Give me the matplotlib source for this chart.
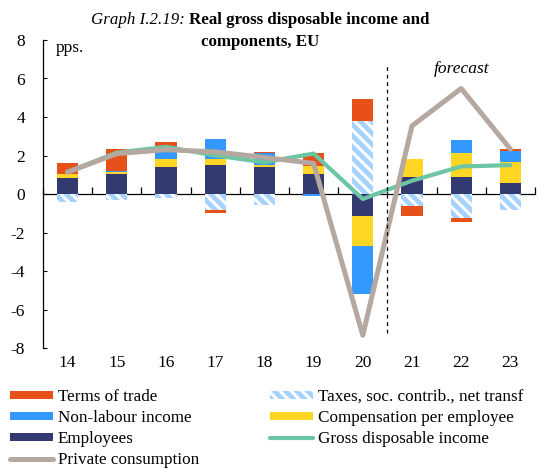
import matplotlib
matplotlib.use("Agg")
import matplotlib.pyplot as plt
from matplotlib.patches import Patch
from matplotlib.lines import Line2D
import numpy as np

plt.rcParams['font.family'] = ['Liberation Serif', 'DejaVu Serif']
plt.rcParams['hatch.linewidth'] = 2.2
plt.rcParams['axes.unicode_minus'] = False

years = ['14', '15', '16', '17', '18', '19', '20', '21', '22', '23']
employees = [0.85, 1.05, 1.38, 1.50, 1.38, 1.04, -1.14, 0.86, 0.86, 0.57]
comp_per_employee = [0.19, 0.07, 0.45, 0.33, 0.15, 0.44, -1.55, 0.95, 1.26, 1.07]
non_labour = [0.0, 0.09, 0.64, 1.04, 0.61, -0.08, -2.53, 0.0, 0.68, 0.59]
taxes = [-0.43, -0.30, -0.22, -0.84, -0.57, 0.0, 3.80, -0.64, -1.26, -0.83]
terms_of_trade = [0.55, 1.11, 0.22, -0.13, 0.06, 0.66, 1.12, -0.48, -0.17, 0.10]
gross_disp_income = [1.15, 2.15, 2.45, 2.0, 1.65, 2.1, -0.26, 0.69, 1.43, 1.5]
private_consumption = [1.13, 2.1, 2.3, 2.19, 1.9, 1.59, -7.34, 3.54, 5.48, 2.33]

c_tot = '#E8501A'
c_nonlab = '#3399FF'
c_emp = '#333A70'
c_comp = '#FFD624'
c_tax_face = '#A6D2FF'
c_gdi = '#6CC5A3'
c_pc = '#B5A8A0'

fig = plt.figure(figsize=(5.47, 4.69), dpi=100)
W, H = 547, 469
ax = fig.add_axes([43 / W, 1 - 348 / H, (535 - 43) / W, (348 - 40) / H])

x = np.arange(len(years))
bw = 0.43
series = [
    (employees, dict(color=c_emp)),
    (comp_per_employee, dict(color=c_comp)),
    (non_labour, dict(color=c_nonlab)),
    (taxes, dict(facecolor=c_tax_face, edgecolor='white', hatch='\\\\\\', linewidth=0)),
    (terms_of_trade, dict(color=c_tot)),
]
pos_base = np.zeros(len(years))
neg_base = np.zeros(len(years))
for vals, style in series:
    v = np.array(vals, dtype=float)
    bottom = np.where(v >= 0, pos_base, neg_base)
    ax.bar(x, v, bw, bottom=bottom, zorder=2, **style)
    pos_base = pos_base + np.where(v > 0, v, 0)
    neg_base = neg_base + np.where(v < 0, v, 0)

ax.plot(x, gross_disp_income, color=c_gdi, lw=3.0, zorder=3, solid_capstyle='round')
ax.plot(x, private_consumption, color=c_pc, lw=3.6, zorder=4, solid_capstyle='round')

ax.vlines(6.5, -7.2, 6.7, colors='black', linestyles=(0, (3, 3)), lw=0.9, zorder=5)
ax.text(8.0, 6.5, 'forecast', style='italic', fontsize=12.5, ha='center', va='center')
ax.text(0.026, 0.974, 'pps.', transform=ax.transAxes, fontsize=12.5, ha='left', va='center')

ax.set_xlim(-0.5, 9.5)
ax.set_ylim(-8, 8)
ax.set_yticks(np.arange(-8, 9, 2))
ax.tick_params(axis='y', direction='in', length=3, labelsize=12.5, pad=13)
for s in ['top', 'right']:
    ax.spines[s].set_visible(False)
ax.spines['bottom'].set_position(('data', 0))
ax.spines['bottom'].set_zorder(1)
ax.spines['left'].set_linewidth(0.9)
ax.spines['bottom'].set_linewidth(0.9)
ax.set_xticks(x)
ax.set_xticks(np.arange(-0.5, 10, 1), minor=True)
ax.tick_params(axis='x', which='major', length=0, labelbottom=False)
ax.tick_params(axis='x', which='minor', direction='in', length=5, width=0.9)

sec = ax.secondary_xaxis(0.0)
sec.set_xticks(x)
sec.set_xticklabels(years)
sec.tick_params(length=0, labelsize=12.5, pad=5)
sec.spines['bottom'].set_visible(False)

# title
renderer = fig.canvas.get_renderer()
xc = 260 / W
t1 = fig.text(0, 1 - 20 / H, 'Graph I.2.19: ', style='italic', fontsize=12.2, va='center')
t2 = fig.text(0, 1 - 20 / H, 'Real gross disposable income and', weight='bold', fontsize=12.2, va='center')
w1 = t1.get_window_extent(renderer).width / W
w2 = t2.get_window_extent(renderer).width / W
start = xc - (w1 + w2) / 2
t1.set_x(start)
t2.set_x(start + w1)
fig.text(xc, 1 - 42 / H, 'components, EU', weight='bold', fontsize=12.2, ha='center', va='center')

h_tot = Patch(facecolor=c_tot, edgecolor='none')
h_nonlab = Patch(facecolor=c_nonlab, edgecolor='none')
h_emp = Patch(facecolor=c_emp, edgecolor='none')
h_pc = Line2D([], [], color=c_pc, lw=3.6, solid_capstyle='round')
h_tax = Patch(facecolor=c_tax_face, edgecolor='white', hatch='\\\\\\', linewidth=0)
h_comp = Patch(facecolor=c_comp, edgecolor='none')
h_gdi = Line2D([], [], color=c_gdi, lw=3.0, solid_capstyle='round')

common = dict(frameon=False, fontsize=12.3, handlelength=2.5, handleheight=0.4,
              labelspacing=0.3, handletextpad=0.3, borderpad=0, borderaxespad=0, loc='upper left')
leg1 = fig.legend([h_tot, h_nonlab, h_emp, h_pc],
                  ['Terms of trade', 'Non-labour income', 'Employees', 'Private consumption'],
                  bbox_to_anchor=(10 / W, 1 - 389 / H), **common)
leg2 = fig.legend([h_tax, h_comp, h_gdi],
                  ['Taxes, soc. contrib., net transf', 'Compensation per employee', 'Gross disposable income'],
                  bbox_to_anchor=(270 / W, 1 - 389 / H), **common)

fig.savefig('out.png', dpi=100)
